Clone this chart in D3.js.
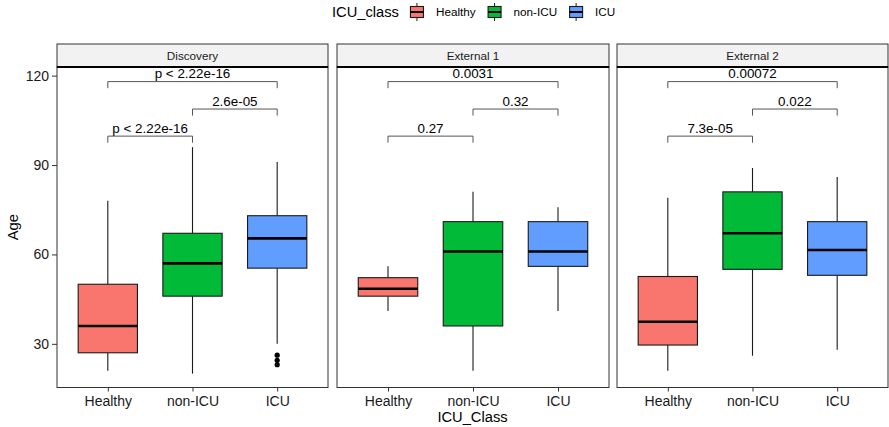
<!DOCTYPE html>
<html>
<head>
<meta charset="utf-8">
<script src="https://cdn.jsdelivr.net/npm/d3@7"></script>
<style>
  body { margin: 0; background: #fff; }
  svg { display: block; font-family: "Liberation Sans", Arial, sans-serif; }
</style>
</head>
<body>
<svg id="chart" width="889" height="427"></svg>
<script>
'use strict';

/* -- Data --------------------------------------------------------------- */
const panels = ['Discovery', 'External 1', 'External 2'];
const classes = ['Healthy', 'non-ICU', 'ICU'];
const classColors = ['#F8766D', '#00BA38', '#619CFF'];
const yTicks = [30, 60, 90, 120];

// one row per panel, one value per class
const whiskerLow  = [[21, 20, 30], [41, 21, 41], [21, 26, 28]];
const q1          = [[27, 46, 55.4], [46, 36, 56], [29.6, 55, 53]];
const median      = [[36, 57, 65.4], [48.5, 61, 61], [37.4, 67.1, 61.5]];
const q3          = [[50, 67.1, 73], [52.2, 71, 71], [52.6, 81, 71]];
const whiskerHigh = [[78, 96, 91], [56, 81, 75.8], [79, 89, 86]];
const outliers    = [[[], [], [26.2, 24.5, 23]], [[], [], []], [[], [], []]];

// significance brackets
const compPairs = [['Healthy', 'non-ICU'], ['non-ICU', 'ICU'], ['Healthy', 'ICU']];
const compY = [99.7, 108.8, 118];
const pLabels = [
    ['p < 2.22e-16', '2.6e-05', 'p < 2.22e-16'],
    ['0.27', '0.32', '0.0031'],
    ['7.3e-05', '0.022', '0.00072']
];

/* -- Layout ------------------------------------------------------------- */
const panelX = [[57, 328], [337, 609], [617, 888]];
const stripTop = 44, plotTop = 67, plotBottom = 387.5;
const tipLen = 2.2;
const boxWidth = 0.7;

const svg = d3.select('#chart');

const yScale = d3.scaleLinear()
    .domain([15.35, 122.9])
    .range([plotBottom, plotTop]);

panels.forEach(function(name, p) {
    const x0 = panelX[p][0], x1 = panelX[p][1];
    const xScale = d3.scalePoint().domain(classes).range([x0, x1]).padding(0.6);
    const bw = xScale.step() * boxWidth;
    const g = svg.append('g').attr('class', 'panel');

    /* -- strip ---------------------------------------------------------- */
    g.append('rect')
        .attr('x', x0).attr('y', stripTop)
        .attr('width', x1 - x0).attr('height', plotTop - stripTop)
        .attr('fill', '#f2f2f2').attr('stroke', '#333').attr('stroke-width', 1);
    g.append('text')
        .attr('x', (x0 + x1) / 2).attr('y', 60)
        .attr('text-anchor', 'middle')
        .attr('font-size', 11.7).attr('fill', '#1a1a1a')
        .text(name);

    /* -- boxes ---------------------------------------------------------- */
    classes.forEach(function(c, i) {
        const cx = xScale(c);
        g.append('line')
            .attr('x1', cx).attr('x2', cx)
            .attr('y1', yScale(whiskerHigh[p][i])).attr('y2', yScale(q3[p][i]))
            .attr('stroke', '#1a1a1a').attr('stroke-width', 1.1);
        g.append('line')
            .attr('x1', cx).attr('x2', cx)
            .attr('y1', yScale(q1[p][i])).attr('y2', yScale(whiskerLow[p][i]))
            .attr('stroke', '#1a1a1a').attr('stroke-width', 1.1);
        g.append('rect')
            .attr('x', cx - bw / 2).attr('y', yScale(q3[p][i]))
            .attr('width', bw).attr('height', yScale(q1[p][i]) - yScale(q3[p][i]))
            .attr('fill', classColors[i])
            .attr('stroke', '#1a1a1a').attr('stroke-width', 1.1);
        g.append('line')
            .attr('x1', cx - bw / 2).attr('x2', cx + bw / 2)
            .attr('y1', yScale(median[p][i])).attr('y2', yScale(median[p][i]))
            .attr('stroke', '#000').attr('stroke-width', 2.6);
        g.selectAll('circle.out' + i)
            .data(outliers[p][i])
            .enter().append('circle')
            .attr('cx', cx).attr('cy', function(d) { return yScale(d); })
            .attr('r', 2.6).attr('fill', '#000');
    });

    /* -- comparison brackets -------------------------------------------- */
    compPairs.forEach(function(pair, k) {
        const xa = xScale(pair[0]), xb = xScale(pair[1]);
        const yl = yScale(compY[k]), yt = yScale(compY[k] - tipLen);
        g.append('path')
            .attr('d', 'M' + xa + ',' + yt + 'V' + yl + 'H' + xb + 'V' + yt)
            .attr('fill', 'none').attr('stroke', '#555').attr('stroke-width', 1);
        g.append('text')
            .attr('x', (xa + xb) / 2).attr('y', yl - 3.2)
            .attr('text-anchor', 'middle')
            .attr('font-size', 13.4).attr('fill', '#000')
            .text(pLabels[p][k]);
    });

    /* -- panel border --------------------------------------------------- */
    g.append('rect')
        .attr('x', x0).attr('y', plotTop)
        .attr('width', x1 - x0).attr('height', plotBottom - plotTop)
        .attr('fill', 'none').attr('stroke', '#333').attr('stroke-width', 1);
    g.append('line')
        .attr('x1', x0).attr('x2', x1).attr('y1', plotTop).attr('y2', plotTop)
        .attr('stroke', '#000').attr('stroke-width', 1.8);

    /* -- x axis --------------------------------------------------------- */
    const xAxis = g.append('g')
        .attr('transform', 'translate(0,' + plotBottom + ')')
        .call(d3.axisBottom(xScale).tickSize(4).tickSizeOuter(0).tickPadding(5));
    xAxis.select('.domain').remove();
    xAxis.selectAll('line').attr('stroke', '#333');
    xAxis.selectAll('text')
        .attr('font-size', 14).attr('fill', '#1a1a1a')
        .attr('font-family', '"Liberation Sans", Arial, sans-serif');

    /* -- y axis (first panel only) -------------------------------------- */
    if (p === 0) {
        const yAxis = g.append('g')
            .attr('transform', 'translate(' + x0 + ',0)')
            .call(d3.axisLeft(yScale).tickValues(yTicks).tickSize(5).tickPadding(3));
        yAxis.select('.domain').remove();
        yAxis.selectAll('line').attr('stroke', '#333');
        yAxis.selectAll('text')
            .attr('font-size', 14).attr('fill', '#1a1a1a')
            .attr('font-family', '"Liberation Sans", Arial, sans-serif');
    }
});

/* -- Axis titles ----------------------------------------------------------- */
svg.append('text')
    .attr('x', (panelX[0][0] + panelX[2][1]) / 2).attr('y', 422)
    .attr('text-anchor', 'middle').attr('font-size', 14.7)
    .text('ICU_Class');
svg.append('text')
    .attr('transform', 'translate(18,' + (plotTop + plotBottom) / 2 + ') rotate(-90)')
    .attr('text-anchor', 'middle').attr('font-size', 14.7)
    .text('Age');

/* -- Legend ---------------------------------------------------------------- */
const legend = svg.append('g').attr('class', 'legend');
const title = legend.append('text')
    .attr('x', 332).attr('y', 16.5)
    .attr('font-size', 14.7)
    .text('ICU_class');
let lx = 332 + title.node().getComputedTextLength() + 10;
classes.forEach(function(c, i) {
    const kx = lx + 1.5, kw = 13, cx = kx + kw / 2;
    legend.append('line')
        .attr('x1', cx).attr('x2', cx).attr('y1', 3).attr('y2', 21)
        .attr('stroke', '#1a1a1a').attr('stroke-width', 1);
    legend.append('rect')
        .attr('x', kx).attr('y', 6.5).attr('width', kw).attr('height', 11)
        .attr('fill', classColors[i]).attr('stroke', '#1a1a1a').attr('stroke-width', 1.1);
    legend.append('line')
        .attr('x1', kx).attr('x2', kx + kw).attr('y1', 12).attr('y2', 12)
        .attr('stroke', '#000').attr('stroke-width', 2);
    const t = legend.append('text')
        .attr('x', lx + 27).attr('y', 16.3)
        .attr('font-size', 11.7)
        .text(c);
    lx = lx + 27 + t.node().getComputedTextLength() + 11;
});
</script>
</body>
</html>
